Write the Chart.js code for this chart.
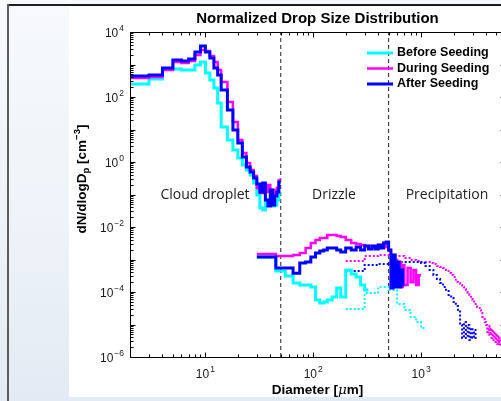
<!DOCTYPE html>
<html><head><meta charset="utf-8">
<script src="https://cdn.jsdelivr.net/npm/chart.js@4"></script>
<style>
html,body{margin:0;padding:0;width:501px;height:401px;overflow:hidden;}
body{position:relative;background:linear-gradient(180deg,#f7f9fc 0%,#eef3f9 55%,#e3eaf3 100%);}
#topline{position:absolute;left:8px;top:4px;width:493px;height:2px;background:#1e1e1e;}
#leftline{position:absolute;left:7px;top:4px;width:2px;height:397px;background:#5c5c5c;}
#paper{position:absolute;left:69px;top:7px;width:432px;height:390px;background:#ffffff;}
#wrap{position:absolute;left:0;top:0;width:520px;height:401px;}
</style></head><body>
<div id="topline"></div><div id="leftline"></div><div id="paper"></div>
<div id="wrap"><canvas id="c" width="520" height="401"></canvas></div>
<script>
// ---------- data ----------
const cdpEdges = [2,3,4,5,6,7,8,9,10,11,12,13,14,16,18,20,22,24,26,28,30,32,34,36,38,40,42,44,46,48,50];
const beforeCloud = [251,358,727,727,677,677,966,1194,547,333,189,65.4,11.9,4.75,2.34,1.33,0.81,0.567,0.398,0.226,0.0966,0.0384,0.0333,0.068,0.0475,0.0548,0.044,0.0475,0.068,0.111];
const duringCloud = [384,412,677,1194,1112,1282,1960,2793,2602,1827,1194,677,290,70.2,17.0,4.75,1.89,0.93,0.567,0.371,0.158,0.111,0.183,0.12,0.196,0.0966,0.137,0.104,0.158,0.279];
const afterCloud  = [443,475,780,1375,1282,1476,2424,3706,2424,1585,780,475,164,39.8,9.66,3.84,1.43,0.70,0.49,0.32,0.21,0.12,0.226,0.068,0.044,0.137,0.0475,0.090,0.12,0.243];

const drizzleEdges = [30,45,55,65,75,85,95,105,115,125,135,150,165,180,200,225,250,275,300,325,350,375,400,425,450,475,500,525,550,575,600,625,650,675,700,750,800,850,900,950,1000];
const beforeDrizzle = [1.19e-3,4.43e-4,3.11e-4,1.89e-4,1.64e-4,1.64e-4,1.43e-4,5.67e-5,4.59e-5,4.92e-5,5.67e-5,7.02e-5,1.33e-4,7.02e-5,4.75e-4,3.58e-4,2.9e-4,1.64e-4,1.15e-4];
const duringDrizzle = [1.48e-3,1.28e-3,1.28e-3,1.38e-3,1.59e-3,2.26e-3,3.22e-3,3.98e-3,4.59e-3,4.59e-3,5.67e-3,5.67e-3,5.29e-3,4.92e-3,3.98e-3,3.22e-3,3.0e-3,2.79e-3,2.6e-3,2.6e-3,2.43e-3,2.43e-3,2.79e-3,2.43e-3,3.22e-3,2.43e-3,1.96e-3,1.38e-3,1.11e-3,9.7e-4,1.64e-4,8.4e-4,1.43e-4,6.8e-4,1.64e-4,5.5e-4,2.0e-4,4.75e-4,1.64e-4,3.3e-4];
const afterDrizzle  = [1.19e-3,5.5e-4,5.5e-4,3.8e-4,7.8e-4,8.4e-4,1.19e-3,1.59e-3,1.83e-3,1.96e-3,2.26e-3,2.26e-3,1.96e-3,1.7e-3,2.26e-3,1.96e-3,2.43e-3,1.96e-3,2.6e-3,2.1e-3,2.6e-3,2.1e-3,2.79e-3,2.26e-3,3.22e-3,3.45e-3,1.96e-3,1.33e-4,1.38e-3,1.43e-4,8.4e-4,1.43e-4,4.75e-4,1.64e-4];

const precipEdges = [200,300,400,500,600,700,800,900,1000,1100,1200,1300,1400,1500,1600,1700,1800,1900,2000,2100,2200,2300,2400,2500,2600,2700,2800,2900,3000,3100,3200,3300,3400,3500,3600,3700,3800,3900,4000,4100,4200,4300,4400,4500,4600,4700,4800,4900,5000,5100,5200,5300,5400,5500];
const beforePrecip = [3.0e-5,9.31e-5,1.43e-4,1.15e-4,4.28e-5,2.79e-5,1.70e-5,1.19e-5,7.8e-6];
const duringPrecip = [9.0e-4,1.28e-3,1.38e-3,1.28e-3,1.28e-3,1.11e-3,9.66e-4,9.0e-4,8.38e-4,8.38e-4,7.8e-4,7.27e-4,6.31e-4,5.88e-4,5.47e-4,4.75e-4,3.84e-4,3.33e-4,2.9e-4,2.03e-4,1.89e-4,1.64e-4,1.43e-4,1.24e-4,1.0e-4,9.31e-5,8.09e-5,6.54e-5,5.67e-5,4.59e-5,4.28e-5,3.45e-5,3.22e-5,2.79e-5,2.26e-5,1.70e-5,1.48e-5,1.19e-5,9.66e-6,5.88e-6,9.0e-6,4.75e-6,7.8e-6,3.84e-6,6.78e-6,3.33e-6,5.88e-6,2.9e-6,5.1e-6,2.51e-6,4.43e-6,2.34e-6,3.84e-6];
const afterPrecip  = [4.43e-4,6.78e-4,7.27e-4,7.8e-4,8.38e-4,8.38e-4,8.38e-4,8.38e-4,7.8e-4,6.31e-4,4.75e-4,3.33e-4,2.51e-4,1.89e-4,1.43e-4,1.07e-4,8.09e-5,6.54e-5,4.92e-5,3.71e-5,2.79e-5,9.66e-6,3.84e-6,1.19e-5,3.84e-6,9.66e-6,3.33e-6,7.8e-6,3.84e-6,6.78e-6,3.84e-6];

const seriesNames = ['Before Seeding','During Seeding','After Seeding'];
const regionBounds = [50, 500];
const regionNames = ['Cloud droplet','Drizzle','Precipitation'];
const xTickExps = [1,2,3];
const yTickExps = [4,2,0,-2,-4,-6];
const xRange = [2, 6000];
const yRange = [1e-6, 1e4];

// ---------- helpers ----------
function stairs(edges, values) {
  const pts = [];
  for (let i = 0; i < values.length; i++) {
    if (values[i] == null) { pts.push({x: edges[i], y: null}); continue; }
    pts.push({x: edges[i], y: values[i]});
    if (i === values.length - 1 || values[i + 1] == null) pts.push({x: edges[i + 1], y: values[i]});
  }
  return pts;
}
const CY = '#00ffff', MG = '#ff00ff', BL = '#0000ff';
function solid(label, color, width, pts) {
  return {label, data: pts, borderColor: color, borderWidth: width, stepped: true, pointRadius: 0, fill: false, borderCapStyle: 'butt', legendEntry: true};
}
function dotted(color, pts) {
  return {label: '', data: pts, borderColor: color, borderWidth: 2, borderDash: [2, 2], stepped: true, pointRadius: 0, fill: false, borderCapStyle: 'butt'};
}
function vline(v) {
  return {label: '', data: [{x: v, y: yRange[0]}, {x: v, y: yRange[1]}], borderColor: '#222', borderWidth: 1, borderDash: [4, 3], pointRadius: 0, fill: false};
}

const datasets = [
  solid(seriesNames[2], BL, 3, stairs(cdpEdges, afterCloud)),
  solid(seriesNames[2], BL, 3, stairs(drizzleEdges, afterDrizzle)),
  solid(seriesNames[1], MG, 2.5, stairs(cdpEdges, duringCloud)),
  solid(seriesNames[1], MG, 2.5, stairs(drizzleEdges, duringDrizzle)),
  solid(seriesNames[0], CY, 3, stairs(cdpEdges, beforeCloud)),
  solid(seriesNames[0], CY, 3, stairs(drizzleEdges, beforeDrizzle)),
  dotted(BL, stairs(precipEdges, afterPrecip)),
  dotted(MG, stairs(precipEdges, duringPrecip)),
  dotted(CY, stairs(precipEdges, beforePrecip)),
  vline(regionBounds[0]),
  vline(regionBounds[1])
];

const FONT = '"Liberation Sans", Arial, sans-serif';

function drawPow(ctx, exp, x, y, align) {
  const base = '10', e = String(exp).replace('-', '\u2212');
  ctx.font = '12px ' + FONT;
  const wb = ctx.measureText(base).width;
  ctx.font = '8.5px ' + FONT;
  const we = ctx.measureText(e).width;
  const total = wb + 1 + we;
  let sx = align === 'right' ? x - total : x - total / 2;
  ctx.textAlign = 'left'; ctx.textBaseline = 'middle';
  ctx.font = '12px ' + FONT;
  ctx.fillText(base, sx, y);
  ctx.font = '8.5px ' + FONT;
  ctx.fillText(e, sx + wb + 1, y - 5.5);
}

function drawParts(ctx, parts, cx, cy) {
  let total = 0;
  parts.forEach(p => { ctx.font = p.f; p.w = ctx.measureText(p.t).width; total += p.w; });
  let sx = cx - total / 2;
  ctx.textAlign = 'left'; ctx.textBaseline = 'alphabetic';
  parts.forEach(p => { ctx.font = p.f; ctx.fillText(p.t, sx, cy + p.dy); sx += p.w; });
}

const axesPlugin = {
  id: 'matlabAxes',
  afterDraw(chart) {
    const {ctx, chartArea: a, scales: {x, y}} = chart;
    const L = Math.round(a.left) + 0.5, R = Math.round(a.right) + 0.5;
    const T = Math.round(a.top) + 0.5, B = Math.round(a.bottom) + 0.5;
    ctx.save();
    ctx.strokeStyle = '#000'; ctx.lineWidth = 1; ctx.setLineDash([]);
    ctx.beginPath();
    ctx.moveTo(L, T); ctx.lineTo(R, T); ctx.lineTo(R, B); ctx.lineTo(L, B); ctx.closePath();
    // x ticks (major at decades, minor 2..9)
    for (let k = 0; k <= 4; k++) for (let m = 1; m <= 9; m++) {
      const v = m * Math.pow(10, k);
      if (v < xRange[0] || v > xRange[1]) continue;
      const px = Math.round(x.getPixelForValue(v)) + 0.5;
      const len = m === 1 ? 5 : 3;
      ctx.moveTo(px, B); ctx.lineTo(px, B - len);
      ctx.moveTo(px, T); ctx.lineTo(px, T + len);
    }
    for (let k = -6; k <= 4; k++) for (let m = 1; m <= 9; m++) {
      const v = m * Math.pow(10, k);
      if (v < yRange[0] * 0.999 || v > yRange[1] * 1.001) continue;
      const py = Math.round(y.getPixelForValue(v)) + 0.5;
      const len = m === 1 ? 5 : 3;
      ctx.moveTo(L, py); ctx.lineTo(L + len, py);
      ctx.moveTo(R, py); ctx.lineTo(R - len, py);
    }
    ctx.stroke();

    ctx.fillStyle = '#1a1a1a';
    xTickExps.forEach(e => drawPow(ctx, e, x.getPixelForValue(Math.pow(10, e)), a.bottom + 18, 'center'));
    yTickExps.forEach(e => drawPow(ctx, e, a.left - 6, y.getPixelForValue(Math.pow(10, e)) + 2, 'right'));

    // title
    ctx.fillStyle = '#000';
    ctx.font = 'bold 15px ' + FONT; ctx.textAlign = 'center'; ctx.textBaseline = 'alphabetic';
    ctx.fillText('Normalized Drop Size Distribution', (a.left + a.right) / 2, 23);

    // x label
    drawParts(ctx, [
      {t: 'Diameter [', f: 'bold 13.5px ' + FONT, dy: 0},
      {t: '\u03bc', f: 'italic 13.5px "DejaVu Serif", serif', dy: 0},
      {t: 'm]', f: 'bold 13.5px ' + FONT, dy: 0}
    ], (a.left + a.right) / 2, 394);

    // y label
    ctx.save();
    ctx.translate(86, 179);
    ctx.rotate(-Math.PI / 2);
    drawParts(ctx, [
      {t: 'dN/dlogD', f: 'bold 13.5px ' + FONT, dy: 0},
      {t: 'p', f: 'bold 9.5px ' + FONT, dy: 3},
      {t: ' [cm', f: 'bold 13.5px ' + FONT, dy: 0},
      {t: '\u22123', f: 'bold 9.5px ' + FONT, dy: -6},
      {t: ']', f: 'bold 13.5px ' + FONT, dy: 0}
    ], 0, 0);
    ctx.restore();

    // region labels
    ctx.fillStyle = '#222';
    ctx.font = '14px "Open Sans", sans-serif'; ctx.textAlign = 'center'; ctx.textBaseline = 'middle';
    const regionX = [205, 334, 447];
    regionNames.forEach((n, i) => ctx.fillText(n, regionX[i], 195));

    // legend
    const legendY = [53, 68.5, 84];
    const legendSets = [4, 2, 0];
    ctx.textAlign = 'left'; ctx.textBaseline = 'middle';
    legendSets.forEach((di, i) => {
      const ds = chart.data.datasets[di];
      ctx.strokeStyle = ds.borderColor; ctx.lineWidth = ds.borderWidth;
      ctx.beginPath(); ctx.moveTo(367, legendY[i]); ctx.lineTo(393, legendY[i]); ctx.stroke();
      ctx.fillStyle = '#000'; ctx.font = 'bold 12.5px ' + FONT;
      ctx.fillText(ds.label, 397, legendY[i]);
    });
    ctx.restore();
  }
};

new Chart(document.getElementById('c'), {
  type: 'line',
  data: {datasets},
  options: {
    responsive: false, animation: false, devicePixelRatio: 1, events: [],
    layout: {padding: {left: 130, top: 32, right: 15, bottom: 44}},
    plugins: {legend: {display: false}, tooltip: {enabled: false}, title: {display: false}},
    scales: {
      x: {type: 'logarithmic', min: xRange[0], max: xRange[1], display: false},
      y: {type: 'logarithmic', min: yRange[0], max: yRange[1], display: false}
    }
  },
  plugins: [axesPlugin]
});
</script></body></html>
